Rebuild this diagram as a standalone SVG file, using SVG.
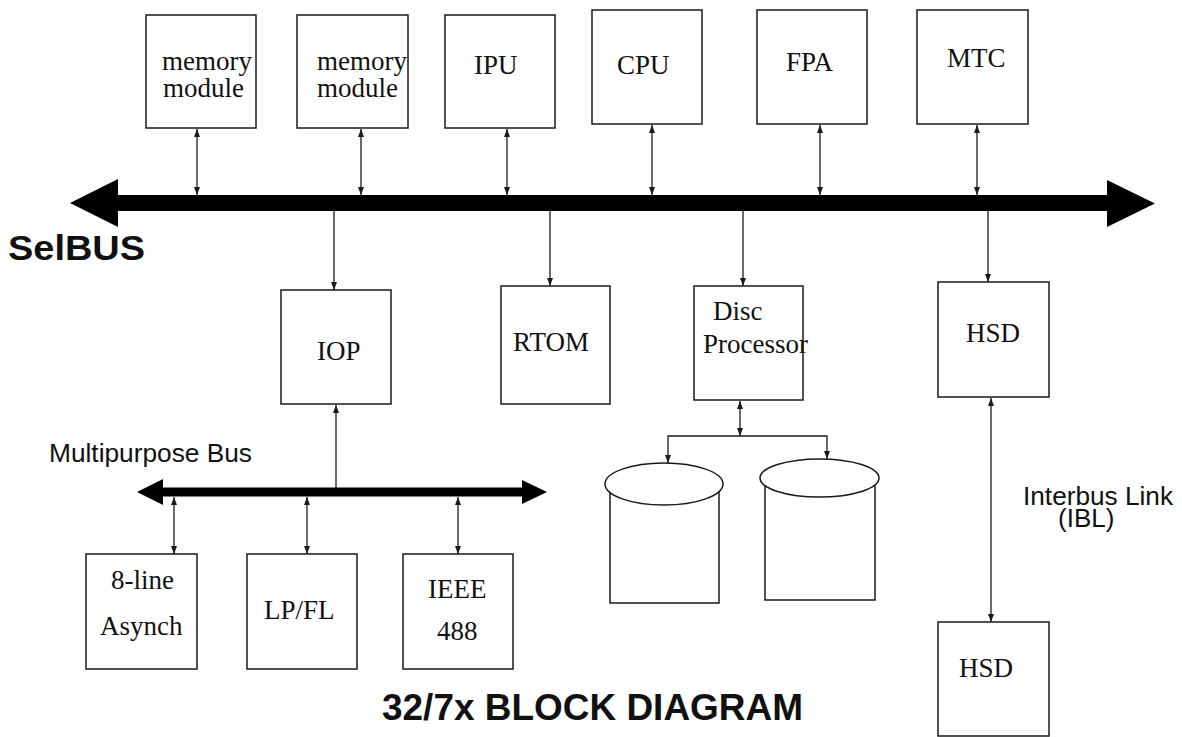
<svg xmlns="http://www.w3.org/2000/svg" width="1182" height="737" viewBox="0 0 1182 737">
<style>
.box{fill:#fff;stroke:#1a1a1a;stroke-width:1.5}
.cyl{fill:#fff;stroke:#1a1a1a;stroke-width:1.5}
.ln{fill:none;stroke:#1a1a1a;stroke-width:1.3}
.t{font-family:"Liberation Serif","Times New Roman",serif;font-size:27px;fill:#111}
.s{font-family:"Liberation Sans",Arial,sans-serif;font-size:26px;fill:#111}
.sb{font-family:"Liberation Sans",Arial,sans-serif;font-weight:bold;fill:#111}
.bus{fill:#000}
</style>
<defs>
<marker id="ah" viewBox="0 0 8 6" refX="8" refY="3" markerWidth="8" markerHeight="6" markerUnits="userSpaceOnUse" orient="auto-start-reverse">
<path d="M0,0 L8,3 L0,6 z" fill="#1a1a1a"/>
</marker>
</defs>
<rect width="1182" height="737" fill="#fff"/>

<g id="selbus">
<polygon class="bus" points="70,203 118,179 118,195 1107,195 1107,180 1155,203.5 1107,227 1107,211 118,211 118,227"/>
<text class="sb" x="8" y="260" font-size="35" textLength="137" lengthAdjust="spacingAndGlyphs">SelBUS</text>
</g>

<g id="mpbus">
<polygon class="bus" points="137,492 163,479 163,487.5 522,487.5 522,480 547,492 522,504 522,496.5 163,496.5 163,505"/>
<text class="s" x="49" y="462" textLength="203" lengthAdjust="spacingAndGlyphs">Multipurpose Bus</text>
</g>

<g id="connectors">
<line class="ln" x1="197" y1="129" x2="197" y2="195" marker-start="url(#ah)" marker-end="url(#ah)"/>
<line class="ln" x1="361" y1="129" x2="361" y2="195" marker-start="url(#ah)" marker-end="url(#ah)"/>
<line class="ln" x1="507" y1="129" x2="507" y2="195" marker-start="url(#ah)" marker-end="url(#ah)"/>
<line class="ln" x1="652" y1="125" x2="652" y2="195" marker-start="url(#ah)" marker-end="url(#ah)"/>
<line class="ln" x1="820" y1="125" x2="820" y2="195" marker-start="url(#ah)" marker-end="url(#ah)"/>
<line class="ln" x1="977" y1="125" x2="977" y2="195" marker-start="url(#ah)" marker-end="url(#ah)"/>
<line class="ln" x1="334" y1="211" x2="334" y2="290" marker-end="url(#ah)"/>
<line class="ln" x1="550" y1="211" x2="550" y2="286" marker-end="url(#ah)"/>
<line class="ln" x1="743" y1="211" x2="743" y2="286" marker-end="url(#ah)"/>
<line class="ln" x1="988" y1="211" x2="988" y2="282" marker-end="url(#ah)"/>
<line class="ln" x1="336" y1="488" x2="336" y2="405" marker-end="url(#ah)"/>
<line class="ln" x1="174" y1="497" x2="174" y2="554" marker-start="url(#ah)" marker-end="url(#ah)"/>
<line class="ln" x1="307" y1="497" x2="307" y2="554" marker-start="url(#ah)" marker-end="url(#ah)"/>
<line class="ln" x1="458" y1="497" x2="458" y2="554" marker-start="url(#ah)" marker-end="url(#ah)"/>
<line class="ln" x1="740" y1="401" x2="740" y2="436" marker-start="url(#ah)" marker-end="url(#ah)"/>
<polyline class="ln" points="668,463 668,436 827,436 827,459" marker-start="url(#ah)" marker-end="url(#ah)"/>
<line class="ln" x1="991" y1="398" x2="991" y2="622" marker-start="url(#ah)" marker-end="url(#ah)"/>
</g>

<g id="mem1"><rect class="box" x="146" y="15" width="110" height="113"/>
<text class="t" x="162" y="70">memory</text><text class="t" x="163" y="97">module</text></g>
<g id="mem2"><rect class="box" x="297" y="15" width="111" height="113"/>
<text class="t" x="317" y="70">memory</text><text class="t" x="317" y="97">module</text></g>
<g id="ipu"><rect class="box" x="445" y="15" width="110" height="113"/>
<text class="t" x="474" y="74">IPU</text></g>
<g id="cpu"><rect class="box" x="592" y="10" width="110" height="114"/>
<text class="t" x="617" y="74">CPU</text></g>
<g id="fpa"><rect class="box" x="757" y="10" width="110" height="114"/>
<text class="t" x="786" y="71">FPA</text></g>
<g id="mtc"><rect class="box" x="917" y="10" width="111" height="114"/>
<text class="t" x="947" y="67">MTC</text></g>

<g id="iop"><rect class="box" x="281" y="290" width="110" height="114"/>
<text class="t" x="317" y="360">IOP</text></g>
<g id="rtom"><rect class="box" x="501" y="286" width="109" height="118"/>
<text class="t" x="513" y="351">RTOM</text></g>
<g id="disc"><rect class="box" x="694" y="286" width="109" height="114"/>
<text class="t" x="713" y="320">Disc</text><text class="t" x="703" y="353">Processor</text></g>
<g id="hsd1"><rect class="box" x="938" y="282" width="111" height="115"/>
<text class="t" x="966" y="342">HSD</text></g>
<g id="hsd2"><rect class="box" x="938" y="622" width="111" height="114"/>
<text class="t" x="959" y="677">HSD</text></g>

<g id="asynch"><rect class="box" x="86" y="554" width="111" height="115"/>
<text class="t" x="111" y="589">8-line</text><text class="t" x="100" y="635">Asynch</text></g>
<g id="lpfl"><rect class="box" x="247" y="554" width="110" height="115"/>
<text class="t" x="264" y="619">LP/FL</text></g>
<g id="ieee"><rect class="box" x="403" y="554" width="110" height="115"/>
<text class="t" x="428" y="598">IEEE</text><text class="t" x="437" y="640">488</text></g>

<g id="disk1">
<path class="cyl" d="M610,490 L610,603 L719,603 L719,490"/>
<ellipse class="cyl" cx="664" cy="484" rx="59" ry="21"/>
</g>
<g id="disk2">
<path class="cyl" d="M765,485 L765,600 L875,600 L875,485"/>
<ellipse class="cyl" cx="819.5" cy="478" rx="59.5" ry="19"/>
</g>

<g id="ibl-label">
<text class="s" x="1023" y="505" textLength="150" lengthAdjust="spacingAndGlyphs">Interbus Link</text>
<text class="s" x="1058" y="527">(IBL)</text>
</g>

<text class="sb" x="382" y="720" font-size="36" textLength="421" lengthAdjust="spacingAndGlyphs">32/7x BLOCK DIAGRAM</text>
</svg>
